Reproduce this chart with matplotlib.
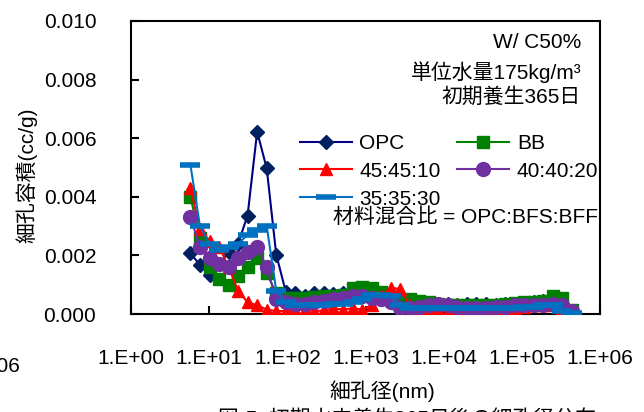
import math
import matplotlib
matplotlib.use("Agg")
import matplotlib.pyplot as plt
from matplotlib.ticker import FixedLocator, FuncFormatter, NullLocator

plt.rcParams["font.family"] = ["Liberation Sans", "Noto Sans CJK JP"]

# pore diameter (nm)
pore_nm = [5.75, 7.62, 10.1, 13.4, 17.7, 23.4, 31.0, 41.1, 54.5, 72.1,
           95.5, 126, 167, 222, 294, 389, 515, 682, 904, 1197,
           1585, 2099, 2780, 3681, 4875, 6457, 8551, 11324, 14997, 19861,
           26303, 34834, 46132, 61094, 80910, 107152, 141906, 187932, 248886, 329610,
           436516]

# pore volume (cc/g)
opc = [0.00207, 0.00168, 0.00134, 0.0017, 0.0021, 0.0024, 0.00336, 0.00622, 0.00497, 0.00203,
       0.00076, 0.00072, 0.00062, 0.00070, 0.00072, 0.00068, 0.00070, 0.00080, 0.00060, 0.00055,
       0.00050, 0.00045, 0.00035, 0.00040, 0.00028, 0.00030, 0.00032, 0.00035, 0.00030, 0.00035,
       0.00033, 0.00035, 0.00030, 0.00035, 0.00030, 0.00035, 0.00040, 0.00045, 0.00048, 0.00035,
       0.00010]
bb = [0.0040, 0.0026, 0.0016, 0.0012, 0.0010, 0.0013, 0.0016, 0.0019, 0.0014, 0.0007,
      0.00055, 0.00055, 0.00055, 0.00058, 0.00060, 0.00062, 0.00065, 0.00090, 0.00092, 0.00090,
      0.00075, 0.00050, 0.00045, 0.00050, 0.00045, 0.00040, 0.00035, 0.00030, 0.00030, 0.00030,
      0.00030, 0.00032, 0.00030, 0.00035, 0.00038, 0.00040, 0.00040, 0.00045, 0.00060, 0.00055,
      0.00015]
mix_45 = [0.0043, 0.0029, 0.0025, 0.0023, 0.0016, 0.0008, 0.0004, 0.0003, 0.00015, 0.0001,
          0.0001, 0.00012, 0.00015, 0.0001, 0.00012, 0.0002, 0.00015, 0.0002, 0.00015, 0.00030,
          0.0006, 0.0009, 0.00085, 0.0003, 0.0001, 0.0001, 0.00012, 0.0001, 0.0001, 0.00012,
          0.0001, 0.0001, 0.00012, 0.0002, 0.0002, 0.00025, 0.0003, 0.0003, 0.0003, 0.0002,
          0.0]
mix_40 = [0.0033, 0.0023, 0.0019, 0.0017, 0.0016, 0.0019, 0.0021, 0.0023, 0.0016, 0.0005,
          0.0004, 0.00035, 0.00035, 0.0004, 0.00045, 0.0005, 0.00055, 0.0006, 0.0006, 0.00055,
          0.0005, 0.0004, 0.0002, 0.0002, 0.00025, 0.0003, 0.00035, 0.0003, 0.00025, 0.0002,
          0.0002, 0.00022, 0.00025, 0.00025, 0.0003, 0.0003, 0.0003, 0.0003, 0.00035, 0.0003,
          0.0001]
mix_35 = [0.0051, 0.0030, 0.0024, 0.0022, 0.0023, 0.0024, 0.0027, 0.00285, 0.0030, 0.0008,
          0.0004, 0.0003, 0.0003, 0.0003, 0.0003, 0.00035, 0.00035, 0.0004, 0.0005, 0.00065,
          0.00065, 0.0006, 0.0003, 0.0002, 0.0002, 0.0002, 0.0002, 0.0002, 0.0002, 0.0002,
          0.0002, 0.0002, 0.0002, 0.0002, 0.0002, 0.00025, 0.00025, 0.0003, 0.0003, 0.0001,
          0.00003]

x_ticks = [1, 10, 100, 1000, 10000, 100000, 1000000]
y_ticks = [0.0, 0.002, 0.004, 0.006, 0.008, 0.010]

W, H = 644, 412
fig = plt.figure(figsize=(W / 100, H / 100), dpi=100)
ax = fig.add_axes([131 / W, 1 - 314 / H, 469 / W, 293 / H])

ax.plot(pore_nm, opc, color="#000080", lw=1.5, marker="D", ms=7,
        mfc="#002060", mec="#002060", label="OPC", zorder=3)
ax.plot(pore_nm, bb, color="#008000", lw=1.5, marker="s", ms=8,
        mfc="#008000", mec="#008000", label="BB", zorder=4)
ax.plot(pore_nm, mix_45, color="#FF0000", lw=1.5, marker="^", ms=9,
        mfc="#FF0000", mec="#FF0000", label="45:45:10", zorder=5)
ax.plot(pore_nm, mix_40, color="#7030A0", lw=1.5, marker="o", ms=10,
        mfc="#7030A0", mec="#7030A0", label="40:40:20", zorder=6)
ax.plot(pore_nm, mix_35, color="#0070C0", lw=1.5, marker="_", ms=14,
        mew=4, mec="#0070C0", label="35:35:30", zorder=7)

ax.set_xscale("log")
ax.set_xlim(1, 1e6)
ax.set_ylim(0, 0.010)
ax.xaxis.set_major_locator(FixedLocator(x_ticks))
ax.xaxis.set_minor_locator(NullLocator())
ax.xaxis.set_major_formatter(FuncFormatter(lambda v, p: "1.E+%02d" % round(math.log10(v))))
ax.set_yticks(y_ticks)
ax.yaxis.set_major_formatter(FuncFormatter(lambda v, p: "%.3f" % v))

for s in ax.spines.values():
    s.set_linewidth(1.5)
ax.tick_params(axis="both", direction="in", width=1.5, length=6, labelsize=15)
ax.tick_params(axis="x", pad=25)
ax.tick_params(axis="y", pad=25)

fig.text(382 / W, 1 - 391 / H, "細孔径(nm)", ha="center", va="center", fontsize=15)
fig.text(27 / W, 1 - 175 / H, "細孔容積(cc/g)", ha="center", va="center",
         rotation=90, fontsize=15)

ax.text(0.96, 0.925, "W/ C50%", transform=ax.transAxes, ha="right", va="center", fontsize=15)
ax.text(0.96, 0.826, "単位水量175kg/m³", transform=ax.transAxes, ha="right", va="center", fontsize=15)
ax.text(0.96, 0.74, "初期養生365日", transform=ax.transAxes, ha="right", va="center", fontsize=15)
ax.text(0.995, 0.33, "材料混合比 = OPC:BFS:BFF", transform=ax.transAxes, ha="right",
        va="center", fontsize=15, zorder=10)

h, l = ax.get_legend_handles_labels()
order = [0, 2, 4, 1, 3]
ax.legend([h[i] for i in order], [l[i] for i in order], ncol=2, frameon=False,
          fontsize=15, loc="upper left", bbox_to_anchor=(300 / W, 1 - 134 / H),
          bbox_transform=fig.transFigure, borderpad=0, handlelength=2.5,
          handletextpad=0.35, columnspacing=0.8, labelspacing=0.42, borderaxespad=0)

# fragments of neighbouring figure content, cut by the image edge
fig.text(20 / W, 1 - 366 / H, "1.E+06", ha="right", va="center", fontsize=15)
fig.text(218 / W, 1 - 409 / H, "図-5  初期水中養生365日後の細孔径分布", ha="left", va="top",
         fontsize=15)

fig.savefig("out.png", dpi=100)
